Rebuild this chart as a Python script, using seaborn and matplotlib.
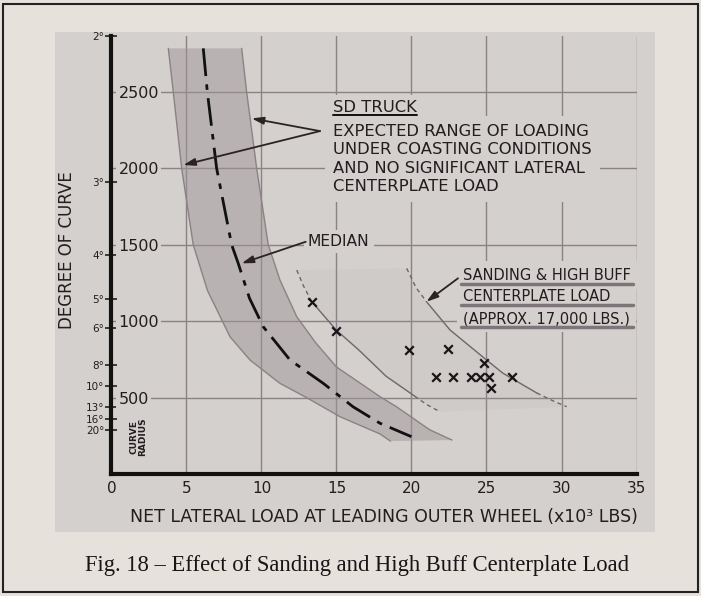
import numpy as np
import pandas as pd
import matplotlib
matplotlib.use("Agg")
import matplotlib.pyplot as plt
import seaborn as sns
from matplotlib.lines import Line2D
from matplotlib.patches import Rectangle

# ---------------- data ----------------
x_ticks = [0, 5, 10, 15, 20, 25, 30, 35]
radius_ticks = [500, 1000, 1500, 2000, 2500]
degree_labels = [2, 3, 4, 5, 6, 8, 10, 13, 16, 20]

band_left_x = [3.79, 4.12, 4.68, 5.45, 6.4, 7.9, 9.23, 11.23, 13.0, 15.23, 17.9, 18.6]
band_left_r = [2784, 2500, 2000, 1500, 1200, 898, 746, 593, 500, 375, 262, 215]
band_right_x = [8.68, 9.01, 9.68, 10.45, 11.23, 12.35, 13.6, 15.0, 17.9, 19.0, 21.2, 22.7]
band_right_r = [2784, 2500, 2000, 1500, 1269, 1029, 860, 700, 506, 440, 290, 222]

median_x = [6.12, 6.39, 7.01, 8.01, 8.45, 9.2, 10.12, 11.9, 14.12, 16.1, 17.9, 20.0]
median_r = [2784, 2500, 2000, 1500, 1378, 1150, 963, 746, 593, 440, 332, 244]

sand_left_x = [12.35, 12.8, 13.35, 15.0, 16.5, 18.3, 20.2, 21.0, 21.9]
sand_left_r = [1334, 1230, 1127, 940, 810, 640, 510, 455, 407]
sand_right_x = [19.68, 20.3, 21.0, 22.57, 25.0, 26.1, 28.35, 29.4, 30.35]
sand_right_r = [1345, 1220, 1127, 942, 746, 659, 530, 480, 440]

test_x = [13.35, 15.0, 19.83, 22.45, 21.63, 22.75, 23.95, 24.57, 25.19, 26.68, 24.83, 25.28]
test_r = [1127, 937, 811, 815, 637, 637, 637, 637, 637, 637, 724, 560]

sd_title = "SD TRUCK"
sd_text = ("EXPECTED RANGE OF LOADING\nUNDER COASTING CONDITIONS\n"
           "AND NO SIGNIFICANT LATERAL\nCENTERPLATE LOAD")
sand_lines = ["SANDING & HIGH BUFF", "CENTERPLATE LOAD", "(APPROX. 17,000 LBS.)"]
caption = "Fig. 18 \u2013 Effect of Sanding and High Buff Centerplate Load"

# ---------------- style ----------------
sns.set_style("white")
plt.rcParams["font.family"] = ["DejaVu Sans"]
page = "#e6e1db"
panel = "#d4d0cd"
gridc = "#8a8285"
ink = "#231c20"

fig = plt.figure(figsize=(7.01, 5.96), dpi=100, facecolor=page)
fig.add_artist(Rectangle((0.0778, 0.1074), 0.8566, 0.8394, transform=fig.transFigure,
                         facecolor=panel, edgecolor="none", zorder=-5))
fig.add_artist(Rectangle((0.004, 0.006), 0.992, 0.988, transform=fig.transFigure,
                         fill=False, edgecolor="#222", lw=1.5, zorder=10))

ax = fig.add_axes([0.159, 0.2047, 0.749, 0.7349])
ax.patch.set_alpha(0)
ax.set_xlim(0, 35)
ax.set_ylim(0, 2865)
ax.set_axisbelow(True)
ax.grid(True, color=gridc, lw=1.0)

for s in ["top", "right"]:
    ax.spines[s].set_visible(False)
for s in ["left", "bottom"]:
    ax.spines[s].set_linewidth(3)
    ax.spines[s].set_color("#111")

ax.set_xticks(x_ticks, labels=[str(v) for v in x_ticks], fontsize=11)
ax.tick_params(axis="x", length=0, pad=5, colors=ink)
ax.set_yticks(radius_ticks, labels=[str(v) for v in radius_ticks], ha="left", fontsize=11.5)
ax.tick_params(axis="y", direction="in", length=5, width=1.2, pad=-5, colors=ink)
for lab in ax.get_yticklabels():
    lab.set_bbox(dict(facecolor=panel, edgecolor="none", pad=1.5))

sec = ax.secondary_yaxis("left")
sec.set_yticks([5729.58 / d for d in degree_labels],
               labels=[f"{d}\u00b0" for d in degree_labels], fontsize=7.5)
sec.tick_params(direction="inout", length=8, width=1.2, pad=1, colors=ink)
sec.spines["left"].set_visible(False)

# band
ax.fill(np.r_[band_left_x, band_right_x[::-1]], np.r_[band_left_r, band_right_r[::-1]],
        color="#9e959a", alpha=0.5, lw=0, zorder=1)
sns.lineplot(x=band_left_x, y=band_left_r, sort=False, estimator=None, ax=ax,
             color="#8a8286", lw=1.0, zorder=1.5)
sns.lineplot(x=band_right_x, y=band_right_r, sort=False, estimator=None, ax=ax,
             color="#8a8286", lw=1.0, zorder=1.5)
sns.lineplot(x=median_x, y=median_r, sort=False, estimator=None, ax=ax,
             color="#111", lw=2.0, linestyle=(0, (10, 3, 2, 3)), zorder=2)

# sanding region
ax.fill(np.r_[sand_left_x, sand_right_x[::-1]], np.r_[sand_left_r, sand_right_r[::-1]],
        color="#a39a9e", alpha=0.09, lw=0, zorder=1)
for cx, cr in [(sand_left_x, sand_left_r), (sand_right_x, sand_right_r)]:
    sns.lineplot(x=cx[:3], y=cr[:3], sort=False, estimator=None, ax=ax,
                 color="#6e666a", lw=1.0, linestyle=(0, (3, 2.5)), zorder=2)
    sns.lineplot(x=cx[2:7], y=cr[2:7], sort=False, estimator=None, ax=ax,
                 color="#6e666a", lw=1.0, zorder=2)
    sns.lineplot(x=cx[6:], y=cr[6:], sort=False, estimator=None, ax=ax,
                 color="#6e666a", lw=1.0, linestyle=(0, (3, 2.5)), zorder=2)

sns.scatterplot(x=test_x, y=test_r, marker="x", s=38, color="#1a1418",
                linewidth=1.6, ax=ax, zorder=4)

# texts
tkw = dict(color=ink, ha="left")
sd_t = ax.text(14.77, 2400, sd_title, va="center", fontsize=11.8, zorder=3,
               bbox=dict(facecolor=panel, edgecolor="none", pad=3), **tkw)
ax.text(14.77, 2289, sd_text, va="top", fontsize=11.8, linespacing=1.27, zorder=3,
        bbox=dict(facecolor=panel, edgecolor="none", pad=6), **tkw)
ax.text(13.1, 1519, "MEDIAN", va="center", fontsize=11.2, zorder=3,
        bbox=dict(facecolor=panel, edgecolor="none", pad=3), **tkw)
sand_r = [1301, 1159, 1017]
sand_t = []
for s, r in zip(sand_lines, sand_r):
    sand_t.append(ax.text(23.45, r, s, va="center", fontsize=10.5, zorder=3,
                          bbox=dict(facecolor=panel, edgecolor="none", pad=4.5), **tkw))

ax.text(1.77, 242, "CURVE\nRADIUS", rotation=90, ha="center", va="center",
        fontsize=6.5, fontweight="bold", linespacing=1.0, color=ink)

ap = dict(arrowstyle="-|>,head_length=0.7,head_width=0.22", color="#2b2226", lw=1.3,
          shrinkA=0, shrinkB=0)
for tip in [(9.35, 2326), (4.79, 2021)]:
    ax.annotate("", xy=tip, xytext=(13.9, 2243), arrowprops=ap, zorder=6)
ax.annotate("", xy=(8.68, 1378), xytext=(12.95, 1519), arrowprops=ap, zorder=6)
ax.annotate("", xy=(21.0, 1127), xytext=(23.1, 1280), arrowprops=ap, zorder=6)

fig.text(0.0956, 0.5805, "DEGREE OF CURVE", rotation=90, ha="center", va="center",
         fontsize=12, color=ink)
fig.text(0.548, 0.133, "NET LATERAL LOAD AT LEADING OUTER WHEEL (x10\u00b3 LBS)",
         ha="center", va="center", fontsize=12.5, color=ink)
fig.text(0.509, 0.052, caption, ha="center", va="center", fontsize=16.3,
         family=["Liberation Serif", "DejaVu Serif"], color="#1a1416")

# underlines
fig.canvas.draw()
inv = fig.transFigure.inverted()


def underline(t, off, lw, color, ext=0, right=None):
    bb = t.get_window_extent()
    x1d = bb.x1 if right is None else right
    (x0, y0), (x1, _) = inv.transform([(bb.x0 - ext, bb.y0 - off), (x1d + ext, bb.y0)])
    fig.add_artist(Line2D([x0, x1], [y0, y0], transform=fig.transFigure,
                          color=color, lw=lw, zorder=8))


underline(sd_t, 0, 1.4, "#111")
right_end = max(t.get_window_extent().x1 for t in sand_t)
for t in sand_t:
    underline(t, 1, 2.5, "#7d7579", ext=2, right=right_end)

fig.savefig("out.png", dpi=100, facecolor=page)
